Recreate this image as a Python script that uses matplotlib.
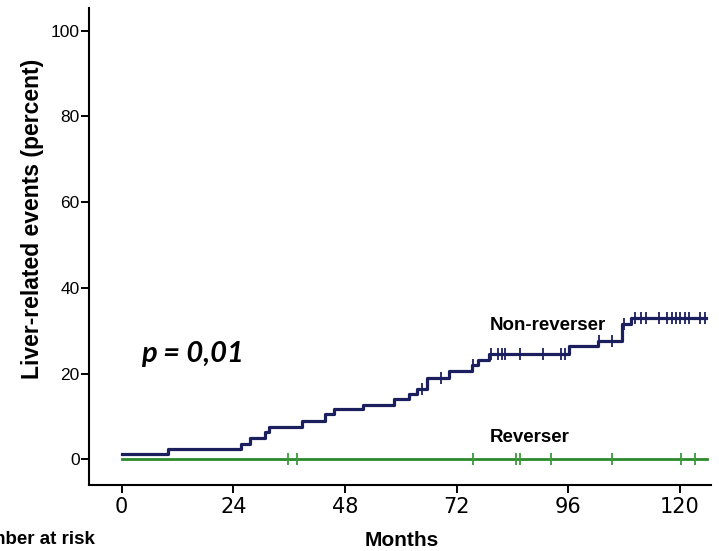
import matplotlib
matplotlib.use("Agg")
import matplotlib.pyplot as plt

# Non-reverser cumulative incidence (step function, months -> percent)
nonrev_times = [0, 10, 25.7, 27.6, 30.9, 31.6, 38.8, 43.6, 45.7, 51.8, 58.6, 61.8,
                63.5, 65.7, 70.4, 75.4, 76.5, 79.0, 96.1, 102.4, 107.6, 109.6, 125.7]
nonrev_values = [1.3, 2.5, 3.7, 4.9, 6.4, 7.6, 8.9, 10.5, 11.7, 12.8, 14.1, 15.3,
                 16.5, 19.0, 20.6, 22.1, 23.3, 24.7, 26.4, 27.7, 31.5, 33.0, 33.0]
nonrev_censor = [64.5, 68.6, 75.6, 79.3, 80.8, 81.7, 82.4, 85.6, 90.6, 94.4, 95.3,
                 102.6, 105.4, 108.0, 110.4, 111.7, 112.8, 115.5, 117.2, 118.3, 119.2,
                 120.1, 121.0, 122.0, 124.4, 125.3]

# Reverser: no events
rev_times = [0, 125.8]
rev_values = [0, 0]
rev_censor = [35.7, 37.7, 75.5, 84.7, 85.6, 92.4, 105.4, 120.3, 123.2]

xticks = [0, 24, 48, 72, 96, 120]
yticks = [0, 20, 40, 60, 80, 100]

NAVY = "#1b1f5e"
GREEN = "#2c8a2c"

fig = plt.figure(figsize=(7.19, 5.51), dpi=100)
ax = fig.add_axes([0.1242, 0.1198, 0.9889 - 0.1242, 0.9855 - 0.1198])

ax.step(rev_times, rev_values, where="post", color=GREEN, lw=2.0, zorder=2)
ax.step(nonrev_times, nonrev_values, where="post", color=NAVY, lw=2.3, zorder=3)


def level(t):
    v = nonrev_values[0]
    for tt, vv in zip(nonrev_times, nonrev_values):
        if tt <= t:
            v = vv
    return v


ax.plot(nonrev_censor, [level(t) for t in nonrev_censor], linestyle="none",
        marker="|", markersize=8, mew=1.3, color=NAVY, zorder=4)
ax.plot(rev_censor, [0] * len(rev_censor), linestyle="none",
        marker="|", markersize=9, mew=1.3, color="#3c9a3c", zorder=4)

ax.set_xlim(-6.97, 126.7)
ax.set_ylim(-5.95, 105.3)
ax.set_xticks(xticks)
ax.set_yticks(yticks)
ax.set_xticklabels([str(v) for v in xticks], fontfamily="Liberation Sans Narrow",
                   fontsize=15)
ax.set_yticklabels([str(v) for v in yticks], fontfamily="Liberation Sans",
                   fontsize=12.5)
ax.tick_params(axis="both", direction="out", length=6, width=1.4, color="black")
ax.tick_params(axis="x", pad=3)
ax.tick_params(axis="y", pad=1)
for s in ["top", "right"]:
    ax.spines[s].set_visible(False)
for s in ["left", "bottom"]:
    ax.spines[s].set_linewidth(1.5)

fig.text(33 / 719, 1 - 219 / 551, "Liver-related events (percent)", rotation=90,
         ha="center", va="center", fontfamily="Liberation Sans",
         fontweight="bold", fontsize=16.5)
fig.text(402 / 719, 1 - 546 / 551, "Months", ha="center", va="baseline",
         fontfamily="Liberation Sans", fontweight="bold", fontsize=15)
fig.text(95 / 719, 1 - 544 / 551, "Number at risk", ha="right", va="baseline",
         fontfamily="Liberation Sans", fontweight="bold", fontsize=13.5)

ax.text(79.1, 30.1, "Non-reverser", ha="left", va="baseline",
        fontfamily="Liberation Sans", fontweight="bold", fontsize=13.5)
ax.text(79.1, 4.0, "Reverser", ha="left", va="baseline",
        fontfamily="Liberation Sans", fontweight="bold", fontsize=13.5)
ax.text(4.2, 22.7, "p = 0,01", ha="left", va="baseline", fontfamily="Lato",
        fontweight="bold", fontstyle="italic", fontsize=21)

fig.savefig("out.png", dpi=100)
